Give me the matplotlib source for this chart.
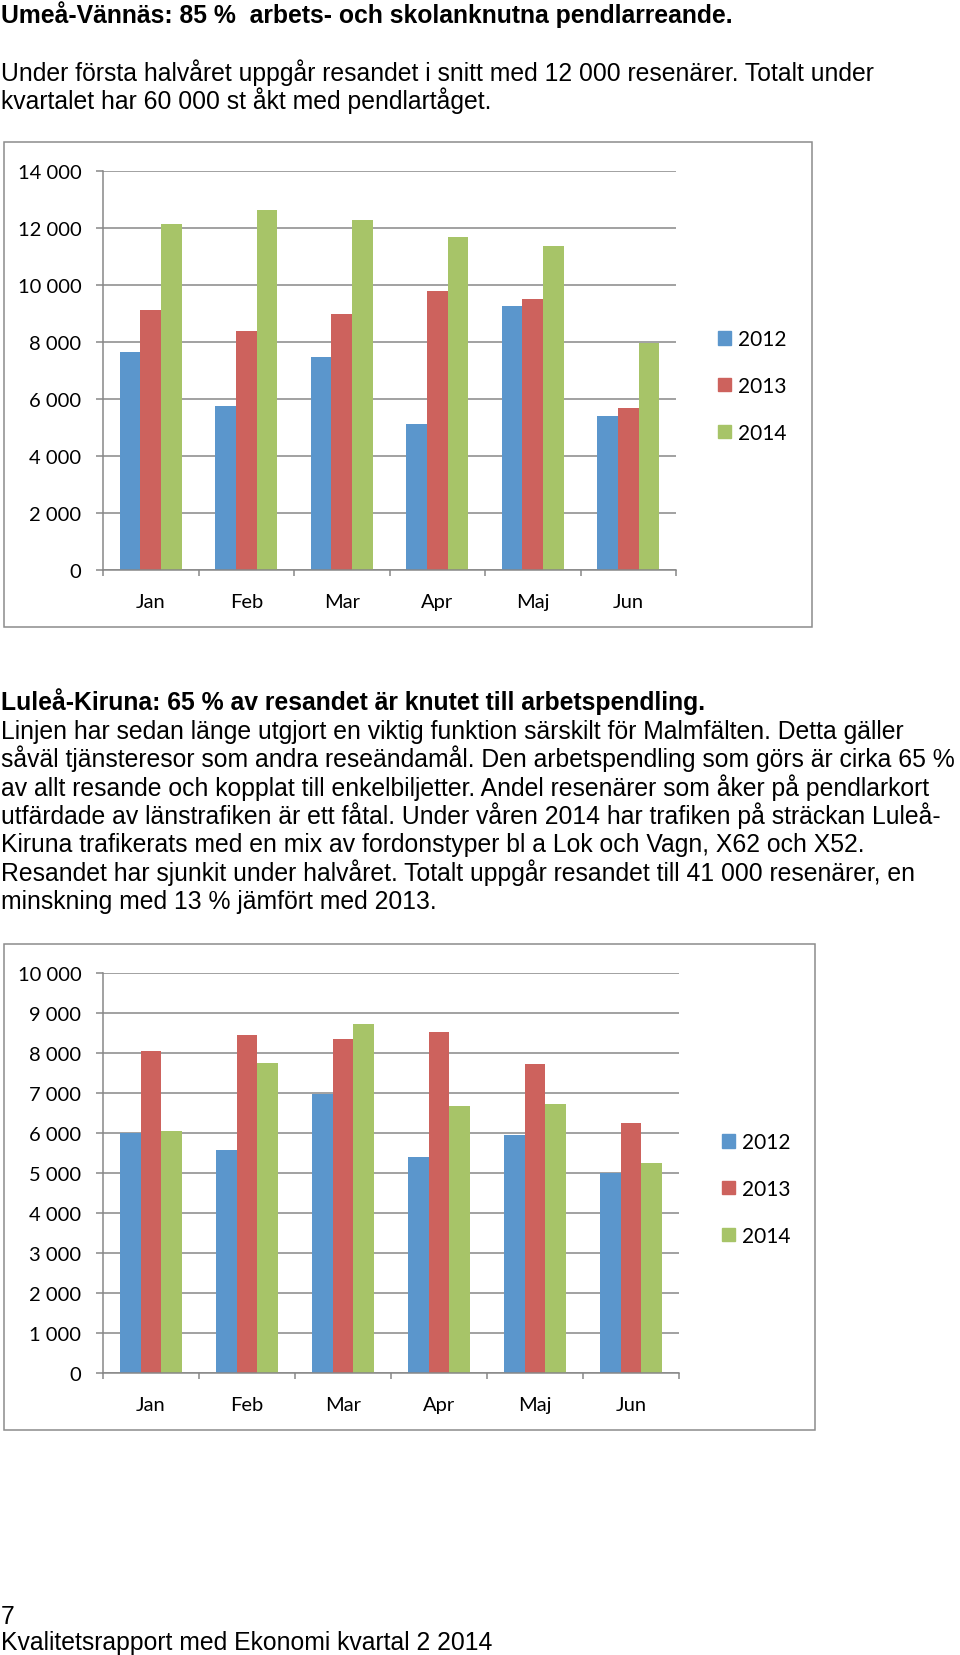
import numpy as np
import matplotlib
matplotlib.use('Agg')
import matplotlib.pyplot as plt
from matplotlib.patches import Rectangle, Patch
from matplotlib.ticker import FuncFormatter, FixedLocator

# data
months = ['Jan', 'Feb', 'Mar', 'Apr', 'Maj', 'Jun']
years = ['2012', '2013', '2014']

umea_2012 = [7650, 5760, 7480, 5140, 9270, 5390]
umea_2013 = [9130, 8390, 8970, 9790, 9500, 5700]
umea_2014 = [12130, 12630, 12280, 11700, 11370, 7960]

lulea_2012 = [6000, 5580, 6980, 5410, 5950, 5000]
lulea_2013 = [8050, 8460, 8350, 8530, 7720, 6250]
lulea_2014 = [6060, 7760, 8730, 6680, 6720, 5240]

heading_1 = 'Umeå-Vännäs: 85 %  arbets- och skolanknutna pendlarreande.'
text_1 = ['Under första halvåret uppgår resandet i snitt med 12 000 resenärer. Totalt under',
          'kvartalet har 60 000 st åkt med pendlartåget.']
heading_2 = 'Luleå-Kiruna: 65 % av resandet är knutet till arbetspendling.'
text_2 = ['Linjen har sedan länge utgjort en viktig funktion särskilt för Malmfälten. Detta gäller',
          'såväl tjänsteresor som andra reseändamål. Den arbetspendling som görs är cirka 65 %',
          'av allt resande och kopplat till enkelbiljetter. Andel resenärer som åker på pendlarkort',
          'utfärdade av länstrafiken är ett fåtal. Under våren 2014 har trafiken på sträckan Luleå-',
          'Kiruna trafikerats med en mix av fordonstyper bl a Lok och Vagn, X62 och X52.',
          'Resandet har sjunkit under halvåret. Totalt uppgår resandet till 41 000 resenärer, en',
          'minskning med 13 % jämfört med 2013.']
footer = ['7', 'Kvalitetsrapport med Ekonomi kvartal 2 2014']

colors = ['#5B96CC', '#CD625D', '#A7C468']
grid_c = '#878787'
W, H = 960, 1656


def fx(px):
    return px / W


def fy(py):
    return 1 - py / H


fig = plt.figure(figsize=(W / 100, H / 100), dpi=100)
body = dict(family='Liberation Sans', fontsize=17.8, color='black', va='baseline', ha='left')

fig.text(fx(1), fy(23), heading_1, fontweight='bold', **body)
for k, line in enumerate(text_1):
    fig.text(fx(1), fy(81 + 28.4 * k), line, **body)

fig.text(fx(1), fy(710), heading_2, fontweight='bold', **body)
for k, line in enumerate(text_2):
    fig.text(fx(1), fy(739 + 28.33 * k), line, **body)

fig.text(fx(1), fy(1624), footer[0], **body)
fig.text(fx(1), fy(1650), footer[1], **body)


def bar_chart(box, frame, series, ymax, ystep, leg_xy):
    left, top, right, bottom = box
    ax = fig.add_axes([fx(left), fy(bottom), (right - left) / W, (bottom - top) / H])
    fl, ft, fr, fb = frame
    fig.add_artist(Rectangle((fx(fl), fy(fb)), (fr - fl) / W, (fb - ft) / H,
                             transform=fig.transFigure, fill=False, ec='#8c8c8c', lw=1.1))
    x = np.arange(len(months))
    bw = 0.218
    for j, vals in enumerate(series):
        ax.bar(x + (j - 1) * bw, vals, width=bw, color=colors[j], label=years[j], zorder=2)

    ax.set_xlim(-0.5, len(months) - 0.5)
    ax.set_ylim(0, ymax)
    ax.set_yticks(np.arange(0, ymax + 1, ystep))
    ax.yaxis.set_major_formatter(FuncFormatter(lambda v, p: f'{int(v):,}'.replace(',', ' ')))
    ax.set_xticks(x)
    ax.set_xticklabels(months)
    ax.xaxis.set_minor_locator(FixedLocator(np.arange(-0.5, len(months), 1.0)))

    ax.grid(axis='y', color=grid_c, lw=1.1, zorder=0)
    ax.set_axisbelow(True)
    for s in ['top', 'right']:
        ax.spines[s].set_visible(False)
    for s in ['left', 'bottom']:
        ax.spines[s].set_color(grid_c)
        ax.spines[s].set_linewidth(1.1)

    ax.tick_params(axis='y', length=5, width=1.1, color=grid_c, pad=10.5,
                   labelsize=14.5, labelfontfamily='Lato')
    ax.tick_params(axis='x', which='major', length=0, pad=16.5,
                   labelsize=14.5, labelfontfamily='Lato')
    ax.tick_params(axis='x', which='minor', length=4.5, width=1.1, color=grid_c)

    handles = [Patch(color=c) for c in colors]
    ax.legend(handles, years, loc='center left', bbox_to_anchor=(fx(leg_xy[0]), fy(leg_xy[1])),
              bbox_transform=fig.transFigure, frameon=False, borderpad=0, borderaxespad=0,
              handlelength=0.6, handleheight=0.6, handletextpad=0.35, labelspacing=1.28,
              prop={'family': 'Lato', 'size': 15})
    return ax


bar_chart((103, 172, 676, 571), (4, 143, 812, 628),
          [umea_2012, umea_2013, umea_2014], 14000, 2000, (718, 387))
bar_chart((103, 974, 679, 1374), (4, 945, 815, 1431),
          [lulea_2012, lulea_2013, lulea_2014], 10000, 1000, (722, 1190))

fig.savefig('out.png', dpi=100)
